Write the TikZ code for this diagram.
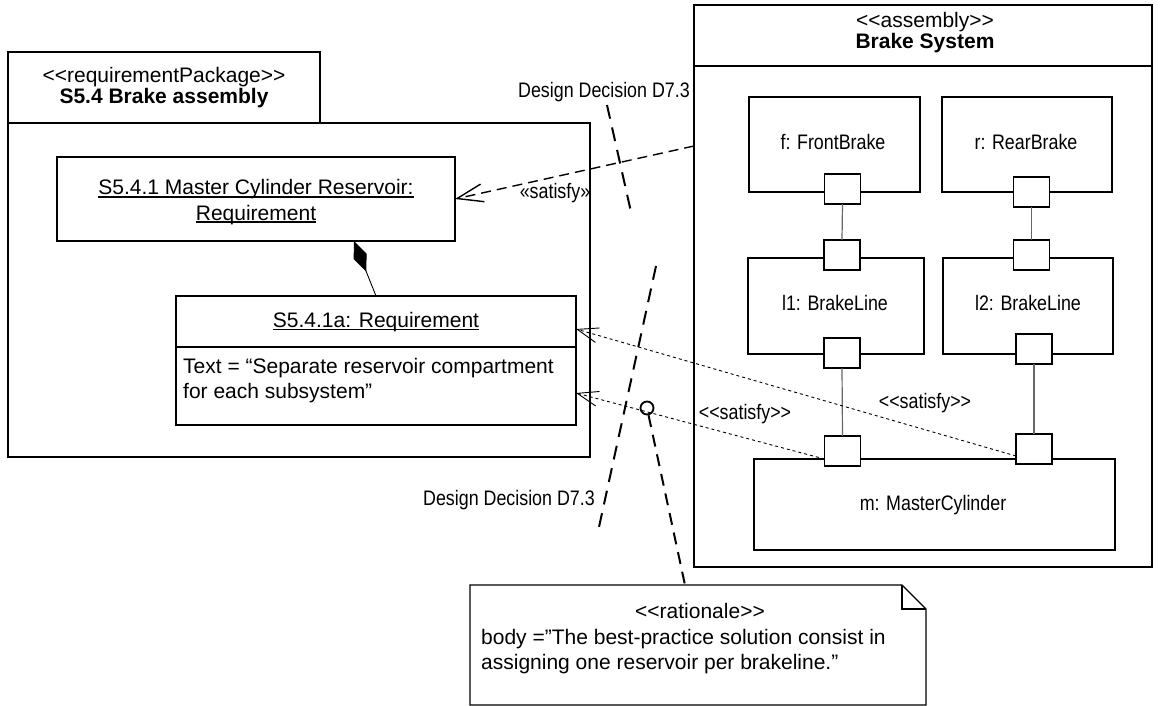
\documentclass[tikz,border=0pt]{standalone}
\usepackage{fontspec}
\setmainfont{Liberation Sans}
\newfontfamily\narrowfont{Liberation Sans}[FakeStretch=0.85]
\usetikzlibrary{arrows.meta,calc}
\newlength\ulw
\newcommand\ulin[1]{\settowidth\ulw{#1}\rlap{\rule[-2.6pt]{\ulw}{1.1pt}}#1}
\begin{document}
\begin{tikzpicture}[x=1pt,y=-1pt,
  box/.style={draw, line width=1.3pt, inner sep=0pt, outer sep=0pt},
  port/.style={draw, line width=1.6pt, fill=white, minimum width=36pt,
    minimum height=30pt, inner sep=0pt, outer sep=0pt},
  ghost/.style={inner sep=0pt, outer sep=0pt},
  maintxt/.style={font=\fontsize{21}{25}\selectfont, inner sep=0pt, anchor=base},
  lefttxt/.style={maintxt, anchor=base west},
  nartxt/.style={font=\narrowfont\fontsize{21}{25}\selectfont, inner sep=0pt, anchor=base},
  wire/.style={draw=black!60, line width=1.2pt},
  satisfybold/.style={line width=1.4pt, dash pattern=on 10pt off 6pt,
    -{Straight Barb[length=26pt,width=18pt]}},
  satisfythin/.style={line width=0.9pt, dash pattern=on 3pt off 3pt,
    -{Straight Barb[length=21pt,width=15pt]}},
  decision/.style={line width=2pt, dash pattern=on 14pt off 9pt},
  anchorline/.style={line width=2pt, dash pattern=on 12pt off 8pt},
]
\useasboundingbox (0,0) rectangle (1160,706);

% ---------- requirement package ----------
\node[box, minimum width=312pt, minimum height=71pt] (pkgtab) at (164,87.5) {};
\node[box, minimum width=582pt, minimum height=334pt] (pkg) at (299,290) {};
\node[maintxt] (pkgst) at (164,83) {<{}<requirementPackage>{}>};
\node[maintxt, font=\fontsize{21}{25}\selectfont\bfseries] (pkgname) at (164,104) {S5.4 Brake assembly};

% master cylinder reservoir requirement
\node[box, minimum width=398pt, minimum height=84pt] (mcr) at (256,199) {};
\node[maintxt] (mcrA) at (256,195) {\ulin{S5.4.1 Master Cylinder Reservoir:}};
\node[maintxt] (mcrB) at (256,220) {\ulin{Requirement}};

% sub-requirement
\node[box, minimum width=400pt, minimum height=129pt] (req) at (376,360.5) {};
\draw[line width=1.3pt] (req.west |- 0,347) -- (req.east |- 0,347);
\node[maintxt] (reqname) at (376,327) {\ulin{S5.4.1a: Requirement}};
\node[lefttxt] (reqtxtA) at (183,373) {Text = “Separate reservoir compartment};
\node[lefttxt] (reqtxtB) at (183,398) {for each subsystem”};

% composition
\draw[line width=0.9pt, -{Diamond[length=33pt,width=14pt,fill=black]}]
  (req.north) -- ([xshift=98pt]mcr.south);

% ---------- brake system assembly ----------
\node[box, minimum width=458pt, minimum height=562pt] (asm) at (923,286) {};
\draw[line width=1.3pt] (asm.west |- 0,66) -- (asm.east |- 0,66);
\node[maintxt] (asmst) at (925,28) {<{}<assembly>{}>};
\node[maintxt, font=\fontsize{21}{25}\selectfont\bfseries] (asmname) at (925,49) {Brake System};

\node[box, minimum width=171pt, minimum height=95pt] (fb) at (834.5,144.5) {};
\node[box, minimum width=170pt, minimum height=95pt] (rb) at (1027,144.5) {};
\node[box, minimum width=176pt, minimum height=96pt] (l1) at (836,306) {};
\node[box, minimum width=170pt, minimum height=96pt] (l2) at (1028,306) {};
\node[box, minimum width=361pt, minimum height=91pt] (mc) at (934.5,504.5) {};

\node[nartxt] (fbt) at (833,150) {f: FrontBrake};
\node[nartxt] (rbt) at (1026,150) {r: RearBrake};
\node[nartxt] (l1t) at (835,310) {l1: BrakeLine};
\node[nartxt] (l2t) at (1028,310) {l2: BrakeLine};
\node[nartxt] (mct) at (933,510) {m: MasterCylinder};

% ports
\node[port] (pf)   at (842.5,189) {};
\node[port] (pr)   at (1031.5,192) {};
\node[port] (pl1t) at (842,255) {};
\node[port] (pl2t) at (1031.5,255) {};
\node[port] (pl1b) at (842,353) {};
\node[port] (pl2b) at (1034,349) {};
\node[port] (pm1)  at (842.5,451) {};
\node[port] (pm2)  at (1034,449) {};

% connectors between ports
\draw[wire] (pf.south) -- (pl1t.north);
\draw[wire] (pr.south) -- (pl2t.north);
\draw[wire] (pl1b.south) -- (pm1.north);
\draw[wire] (pl2b.south) -- (pm2.north);

% ---------- satisfy dependencies ----------
\coordinate (satfrom) at (694,146);
\draw[satisfybold] (satfrom) -- (mcr.east);
\node[nartxt] (satlblA) at (555,198) {«satisfy»};

\draw[satisfythin] ([yshift=-8pt]pm1.west) -- ([yshift=-32.5pt]req.east);
\node[nartxt] (satlblB) at (745,419) {<{}<satisfy>{}>};

\draw[satisfythin] ([yshift=-7pt]pm2.west) -- ([yshift=31.5pt]req.east);
\node[nartxt] (satlblC) at (925,408) {<{}<satisfy>{}>};

% ---------- design decisions ----------
\coordinate (ddAtop) at (607,105);
\coordinate (ddAbot) at (631,212);
\draw[decision] (ddAtop) -- (ddAbot);
\node[nartxt, anchor=base east] (ddAlbl) at (690,98) {Design Decision D7.3};

\coordinate (ddBtop) at (656,266);
\coordinate (ddBbot) at (599,527);
\draw[decision] (ddBtop) -- (ddBbot);
\node[nartxt, anchor=base east] (ddBlbl) at (595,505) {Design Decision D7.3};

% ---------- rationale note ----------
\node[ghost, minimum width=456pt, minimum height=120pt] (note) at (698,645) {};
\draw[line width=1.4pt, fill=white]
  (note.north west) -- ([xshift=-24pt]note.north east) -- ([yshift=-24pt]note.north east)
  -- (note.south east) -- (note.south west) -- cycle;
\draw[line width=1.4pt] ([xshift=-24pt]note.north east) -- ([xshift=-24pt,yshift=-24pt]note.north east)
  -- ([yshift=-24pt]note.north east);
\node[maintxt] (notest) at (700,618) {<{}<rationale>{}>};
\node[lefttxt] (noteA) at (481,644) {body =”The best-practice solution consist in};
\node[lefttxt] (noteB) at (481,669) {assigning one reservoir per brakeline.”};

\node[circle, draw, line width=1.8pt, minimum size=13pt, inner sep=0pt] (anc) at (647,408) {};
\coordinate (ancend) at (685,585);
\draw[anchorline] (anc) -- (ancend);
\end{tikzpicture}
\end{document}
